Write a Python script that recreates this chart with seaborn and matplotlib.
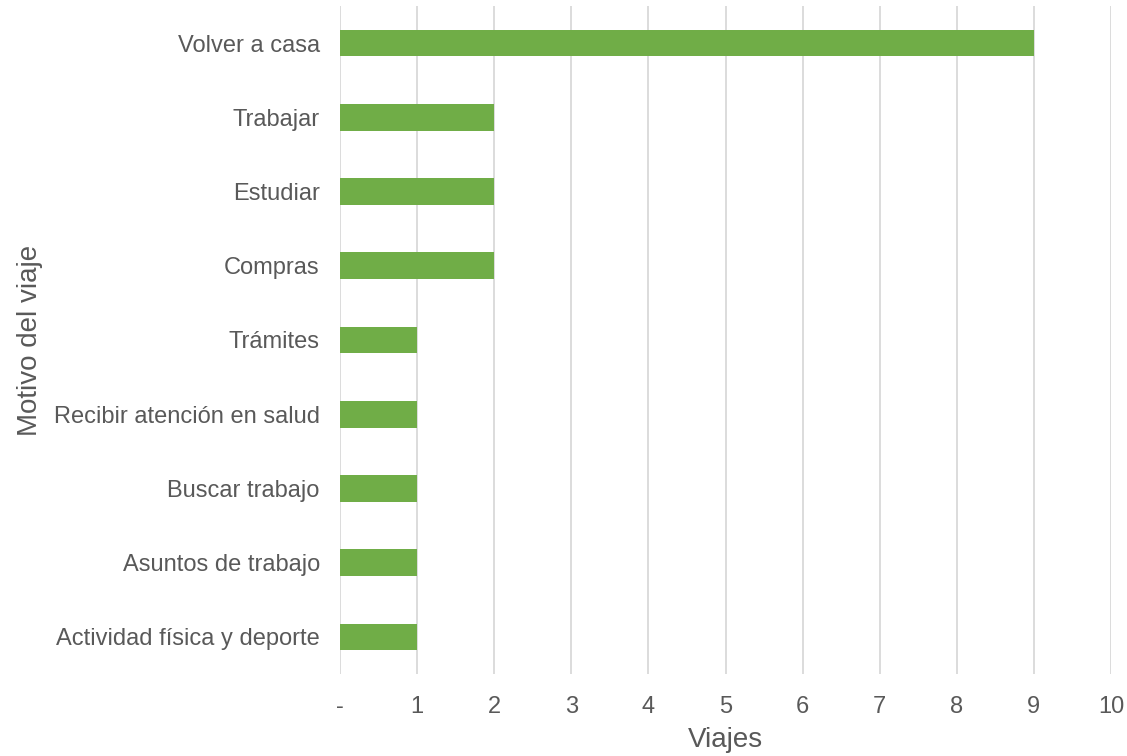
import matplotlib
matplotlib.use("Agg")
import matplotlib.pyplot as plt
import seaborn as sns
import pandas as pd

motivos = ["Volver a casa", "Trabajar", "Estudiar", "Compras", "Trámites",
           "Recibir atención en salud", "Buscar trabajo", "Asuntos de trabajo",
           "Actividad física y deporte"]
viajes = [9, 2, 2, 2, 1, 1, 1, 1, 1]
x_ticks = list(range(0, 11))
x_labels = ["-"] + [str(v) for v in range(1, 11)]

data = pd.DataFrame({"motivo": motivos, "viajes": viajes})

sns.set_style("white")
plt.rcParams["font.family"] = ["Liberation Sans", "DejaVu Sans"]
gray = "#595959"

fig = plt.figure(figsize=(11.27, 7.56), dpi=100)
ax = fig.add_axes([340 / 1127, 1 - 674 / 756, 771 / 1127, 668 / 756])

sns.barplot(data=data, x="viajes", y="motivo", color="#70AD47", width=0.36,
            saturation=1, linewidth=0, ax=ax, zorder=3)

ax.set_xlim(0, 10)
ax.set_ylim(len(motivos) - 0.5, -0.5)
ax.set_xticks(x_ticks)
ax.set_xticklabels(x_labels)
ax.grid(axis="x", color="#D9D9D9", linewidth=1.3, zorder=0)
ax.grid(axis="y", visible=False)
for s in ax.spines.values():
    s.set_visible(False)
ax.tick_params(axis="both", length=0, labelsize=17, colors=gray)
ax.tick_params(axis="x", pad=16)
ax.tick_params(axis="y", pad=14.5)
ax.set_xlabel("Viajes", fontsize=20, color=gray, va="center")
ax.set_ylabel("Motivo del viaje", fontsize=20, color=gray, va="center")
ax.xaxis.set_label_coords(0.5, (674 - 740) / 668)
ax.yaxis.set_label_coords((30 - 340) / 771, (674 - 340) / 668)

fig.savefig("out.png", dpi=100)
